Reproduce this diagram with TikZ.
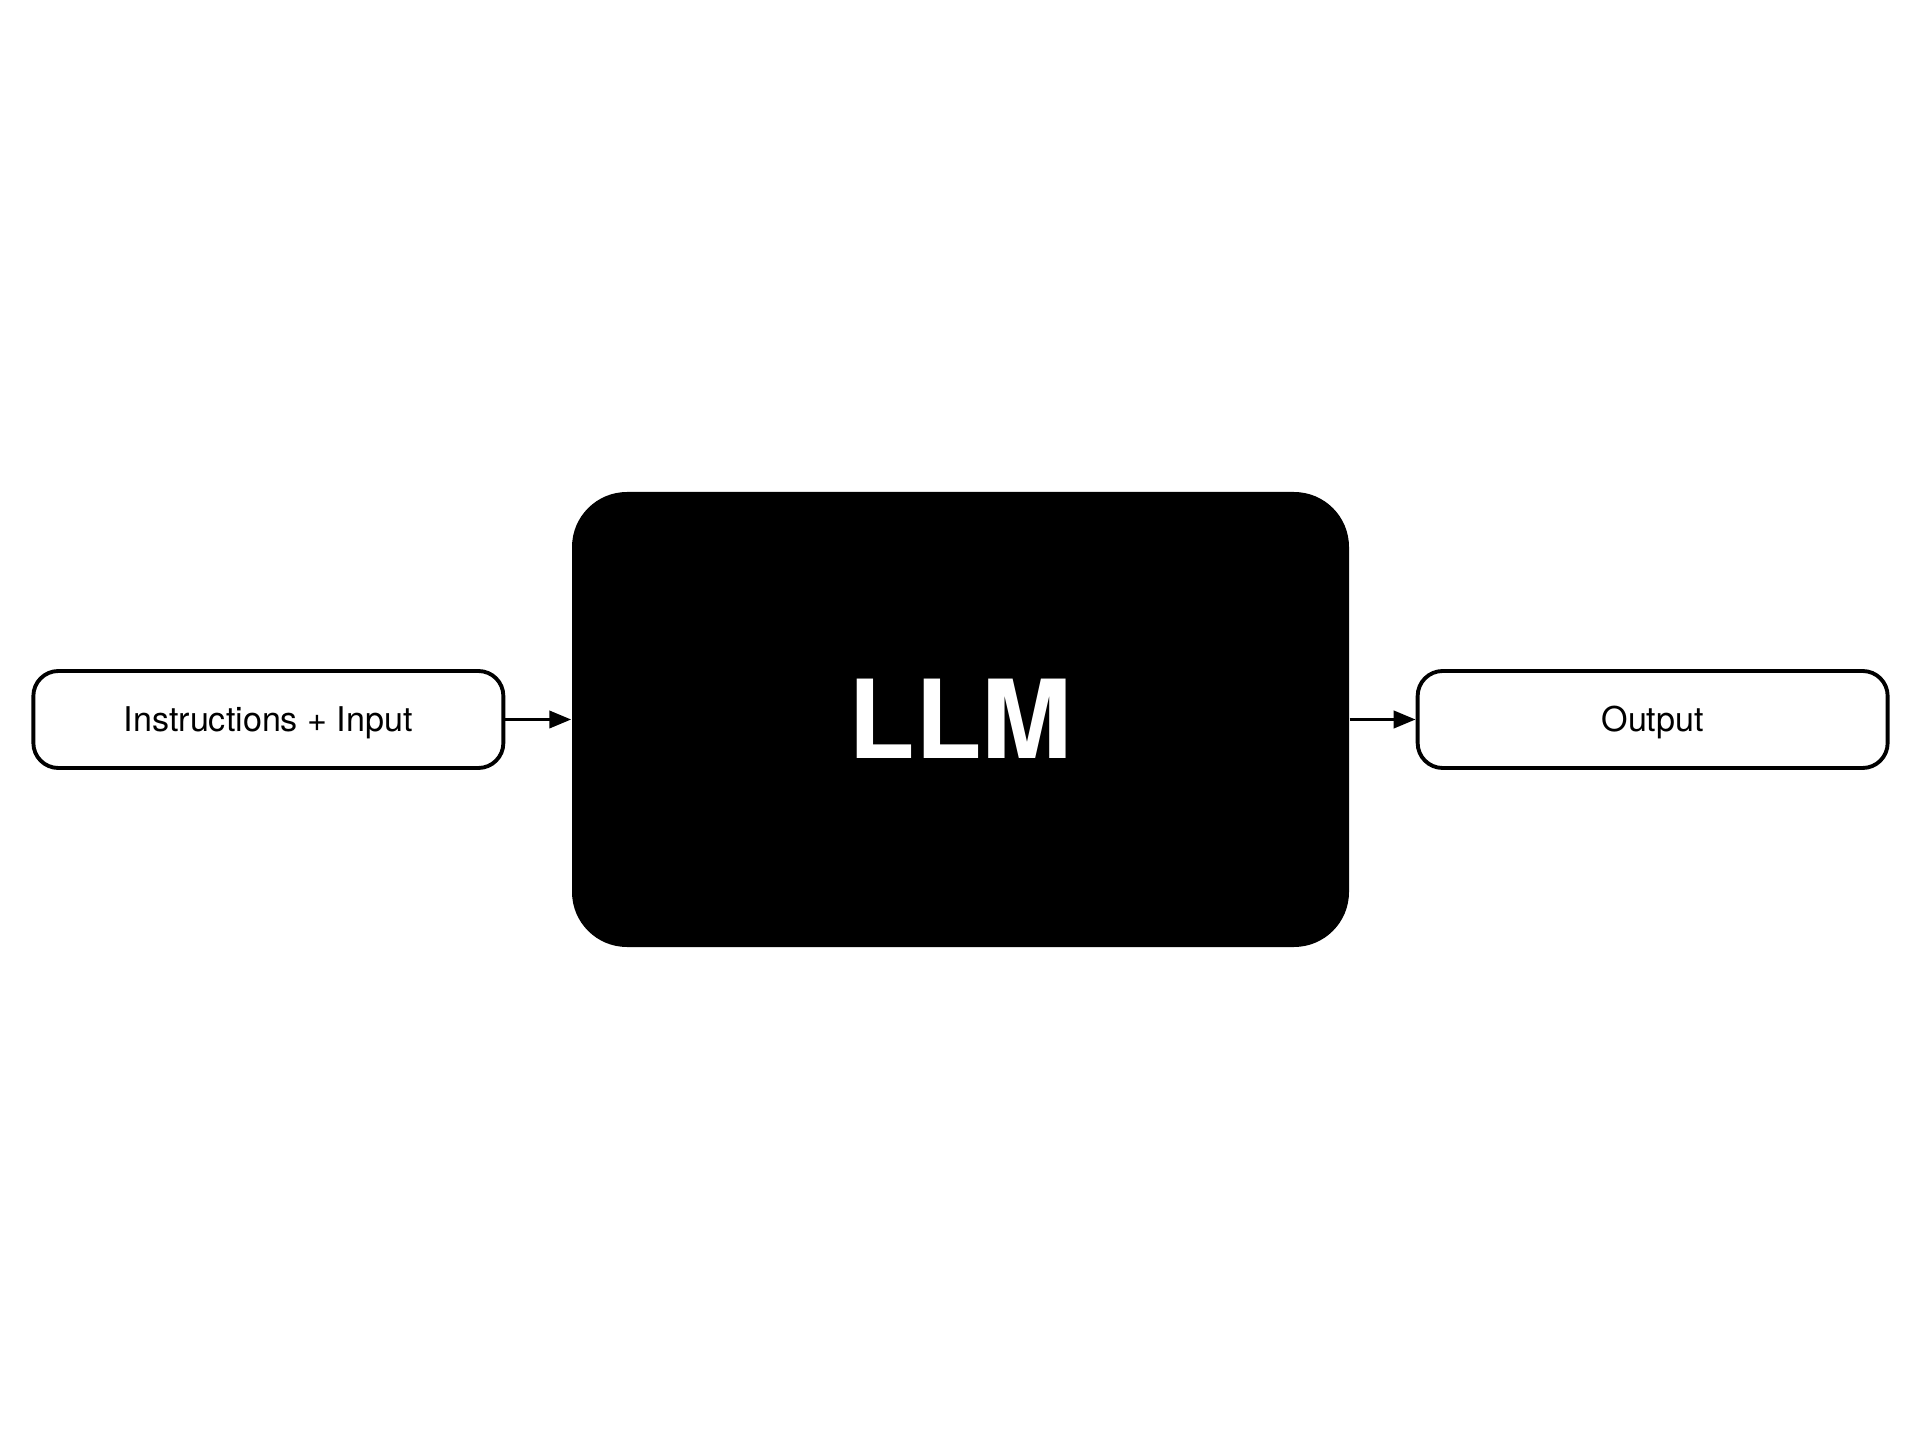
\documentclass[tikz,border=0pt]{standalone}
\usepackage{fontspec}
\setmainfont{TeX Gyre Heros}
\usetikzlibrary{arrows.meta}
\usetikzlibrary{positioning}
\tikzstyle{ioblock} = [rectangle, draw, line width=1.1pt, rounded corners=0.25cm, text centered, minimum width=4.7cm, minimum height=0.97cm, inner sep=0pt, text height=7pt, text depth=0pt, font=\fontsize{9.7}{12}\selectfont]
\tikzstyle{modelblock} = [rectangle, fill=black, rounded corners=0.55cm, text centered, minimum width=7.77cm, minimum height=4.55cm, inner sep=0pt, text height=22.3pt, text depth=0pt, text=white, font=\fontsize{31}{36}\selectfont\bfseries]
\tikzstyle{flow} = [-{Triangle[length=0.22cm, width=0.17cm]}, line width=1.1pt]

\begin{document}
\begin{tikzpicture}
		\useasboundingbox (0,0) rectangle (19.2,14.4);
		% the model in the middle
		\node [modelblock] (llm) at (9.605,7.205) {LLM};
		% input and output
		\node [ioblock, left=0.66cm of llm] (input) {Instructions + Input};
		\node [ioblock, right=0.66cm of llm] (output) {Output};
		% connectors
		\draw [flow] (input) -- (llm);
		\draw [flow] (llm) -- (output);
	\end{tikzpicture}
\end{document}
